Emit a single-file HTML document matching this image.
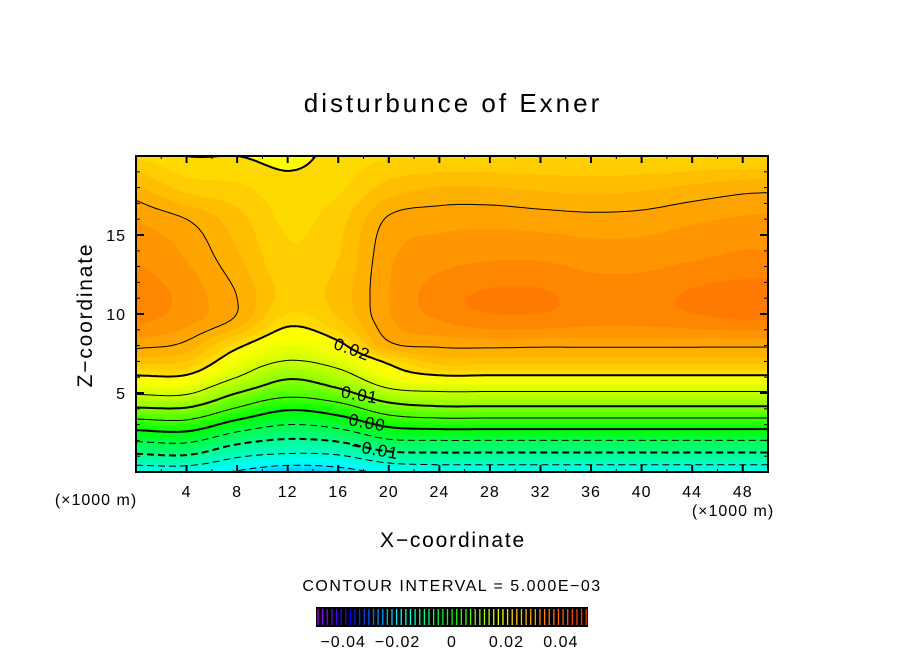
<!DOCTYPE html>
<html><head><meta charset="utf-8">
<style>
html,body{margin:0;padding:0;background:#fff;}
#wrap{position:relative;width:904px;height:654px;overflow:hidden;font-family:"Liberation Sans","DejaVu Sans",sans-serif;}
canvas{position:absolute;left:136px;top:156px;}
svg{position:absolute;left:0;top:0;}
text{font-family:"Liberation Sans","DejaVu Sans",sans-serif;fill:#000;}
</style></head>
<body>
<div id="wrap">
<canvas id="fill" width="632" height="316"></canvas>
<svg id="svg" width="904" height="654">
<text x="453" y="112" font-size="26" letter-spacing="3" text-anchor="middle">disturbunce of Exner</text>
<text x="453" y="547" font-size="21" letter-spacing="1.8" text-anchor="middle">X−coordinate</text>
<text transform="translate(92,315) rotate(-90)" font-size="21" letter-spacing="1.8" text-anchor="middle">Z−coordinate</text>
<text x="96" y="505" font-size="16" letter-spacing="1" text-anchor="middle">(×1000 m)</text>
<text x="733" y="516" font-size="16" letter-spacing="1" text-anchor="middle">(×1000 m)</text>
<text x="452" y="591" font-size="16" letter-spacing="1.5" text-anchor="middle">CONTOUR INTERVAL = 5.000E−03</text>
<g id="contours"></g>
<g id="axes"></g>
<g id="cbar"></g>
</svg>
</div>
<script>
// grid data: columns x (km), rows z (km)
const xs = [0,4,8,12,16,20,24,28,32,36,40,44,48,50];
const zs = [0,1,2,3,4,5,6,7,8,9.5,11,13.5,16,18,20];
const col0  = [-0.018,-0.011,-0.0045,0.0025,0.0095,0.0155,0.0196,0.023,0.0254,0.0278,0.0286,0.0274,0.0262,0.024,0.021];
const col4  = [-0.018,-0.0105,-0.004,0.003,0.0095,0.0155,0.0195,0.0225,0.0245,0.0266,0.027,0.0262,0.025,0.022,0.020];
const col8  = [-0.0205,-0.0145,-0.0085,-0.002,0.0045,0.010,0.015,0.018,0.0205,0.0245,0.025,0.024,0.023,0.0215,0.020];
const col12 = [-0.023,-0.016,-0.0105,-0.005,0.0005,0.0065,0.0105,0.0148,0.0175,0.0205,0.022,0.0215,0.021,0.0205,0.0195];
const col16 = [-0.022,-0.0155,-0.0095,-0.0035,0.0025,0.0085,0.013,0.0165,0.0193,0.0222,0.023,0.0225,0.022,0.021,0.0205];
const col20 = [-0.019,-0.012,-0.0055,0.001,0.0075,0.0135,0.018,0.0205,0.0245,0.026,0.0262,0.026,0.0252,0.023,0.021];
const col24 = [-0.018,-0.0115,-0.005,0.002,0.009,0.0145,0.0195,0.023,0.0252,0.0274,0.0282,0.027,0.0257,0.0238,0.021];
const col28 = [-0.018,-0.0115,-0.005,0.002,0.009,0.0145,0.0195,0.023,0.0253,0.0282,0.029,0.0274,0.0258,0.0238,0.021];
const col32 = [-0.018,-0.0115,-0.005,0.002,0.009,0.0145,0.0195,0.023,0.0252,0.0282,0.029,0.0274,0.0256,0.0235,0.021];
const col36 = [-0.018,-0.0115,-0.005,0.002,0.009,0.0145,0.0195,0.023,0.0252,0.0278,0.0282,0.027,0.0254,0.0233,0.021];
const col40 = [-0.018,-0.0115,-0.005,0.002,0.009,0.0145,0.0195,0.023,0.0252,0.0278,0.0282,0.027,0.0255,0.0235,0.021];
const col44 = [-0.018,-0.0115,-0.005,0.002,0.009,0.0145,0.0195,0.023,0.0252,0.0282,0.029,0.0274,0.026,0.024,0.021];
const col48 = [-0.018,-0.0115,-0.005,0.002,0.009,0.0145,0.0195,0.023,0.0252,0.0286,0.0294,0.0278,0.0264,0.0245,0.021];
const col50 = [-0.018,-0.0115,-0.005,0.002,0.009,0.0145,0.0195,0.023,0.0252,0.0286,0.0294,0.0278,0.0265,0.0246,0.021];
const cols = [col0,col4,col8,col12,col16,col20,col24,col28,col32,col36,col40,col44,col48,col50];
const levels = [-0.02,-0.015,-0.01,-0.005,0,0.005,0.01,0.015,0.02,0.025,0.03];
const heavyLevels = [-0.01,0,0.01,0.02];
const labelLevels = [0.02,0.01,0,-0.01];
const labelTexts = ["0.02","0.01","0.00","−0.01"];
const xTicks = [4,8,12,16,20,24,28,32,36,40,44,48];
const yTicks = [5,10,15];
const cbTicks = [-0.04,-0.02,0,0.02,0.04];
const cbTickText = ["−0.04","−0.02","0","0.02","0.04"];

const PL=136,PT=156,PW=632,PH=316,XMAX=50,ZMAX=20;
const sx = x => PL + x/XMAX*PW;
const sy = z => PT + PH - z/ZMAX*PH;
const NS="http://www.w3.org/2000/svg";

function seg(arr,v){let i=0;while(i<arr.length-2&&v>arr[i+1])i++;return i;}
function slope(X,Y,k){
  if(k===0) return (Y[1]-Y[0])/(X[1]-X[0]);
  const n=X.length-1;
  if(k===n) return (Y[n]-Y[n-1])/(X[n]-X[n-1]);
  return (Y[k+1]-Y[k-1])/(X[k+1]-X[k-1]);
}
function herm(X,Y,v){
  const i=seg(X,v);const h=X[i+1]-X[i];
  const t=Math.max(0,Math.min(1,(v-X[i])/h));
  const m0=slope(X,Y,i)*h,m1=slope(X,Y,i+1)*h;
  const t2=t*t,t3=t2*t;
  return (2*t3-3*t2+1)*Y[i]+(t3-2*t2+t)*m0+(-2*t3+3*t2)*Y[i+1]+(t3-t2)*m1;
}
function field(x,z){
  const row=cols.map(c=>herm(zs,c,z));
  return herm(xs,row,x);
}
function hue(v){
  if(v>=0.02) return Math.max(-10,53-(v-0.02)*2600);
  return Math.max(60,Math.min(280,120-v*3200));
}
function hslRgb(h){
  h=((h%360)+360)%360;
  const f=n=>{const k=(n+h/30)%12;return 255*(0.5-0.5*Math.max(-1,Math.min(k-3,9-k,1)));};
  return [f(0),f(8),f(4)];
}
// fill
const BAND=0.00125;
const ctx=document.getElementById('fill').getContext('2d');
const img=ctx.createImageData(PW,PH);
for(let py=0;py<PH;py++){const z=(PH-py-0.5)/PH*ZMAX;const row=cols.map(c=>herm(zs,c,z));
 for(let px=0;px<PW;px++){
  const v=herm(xs,row,(px+0.5)/PW*XMAX);
  const q=(Math.floor(v/BAND)+0.5)*BAND;
  const c=hslRgb(hue(q));const k=(py*PW+px)*4;
  img.data[k]=c[0];img.data[k+1]=c[1];img.data[k+2]=c[2];img.data[k+3]=255;}}
ctx.putImageData(img,0,0);

// contours via marching squares with chaining
const cg=document.getElementById('contours');
const NX=200,NZ=100;
const G=[];for(let j=0;j<=NZ;j++){const z=j/NZ*ZMAX;const row=cols.map(c=>herm(zs,c,z));G[j]=[];for(let i=0;i<=NX;i++)G[j][i]=herm(xs,row,i/NX*XMAX);}
levels.forEach(L=>{
  const pos={};const adj={};
  const P=(i,j)=>[sx(i/NX*XMAX),sy(j/NZ*ZMAX)];
  function edgePt(A,B){
    let a=A,b=B; if(a[0]>b[0]||a[1]>b[1]){a=B;b=A;}
    const key=a[0]+','+a[1]+','+b[0]+','+b[1];
    if(!pos[key]){const va=G[a[1]][a[0]],vb=G[b[1]][b[0]];const t=(L-va)/(vb-va);
      const pa=P(a[0],a[1]),pb=P(b[0],b[1]);pos[key]=[pa[0]+(pb[0]-pa[0])*t,pa[1]+(pb[1]-pa[1])*t];}
    return key;
  }
  const link=(k1,k2)=>{(adj[k1]=adj[k1]||[]).push(k2);(adj[k2]=adj[k2]||[]).push(k1);};
  for(let j=0;j<NZ;j++)for(let i=0;i<NX;i++){
    const c=[[i,j],[i+1,j],[i+1,j+1],[i,j+1]];
    const ks=[];
    for(let e=0;e<4;e++){const A=c[e],B=c[(e+1)%4];
      const va=G[A[1]][A[0]],vb=G[B[1]][B[0]];
      if((va<L)!==(vb<L))ks.push(edgePt(A,B));}
    for(let k=0;k+1<ks.length;k+=2)link(ks[k],ks[k+1]);
  }
  const used={};let d="";
  const walk=start=>{let pts=[start];used[start]=1;let cur=start;
    while(true){const nx=(adj[cur]||[]).find(n=>!used[n]);if(!nx)break;used[nx]=1;pts.push(nx);cur=nx;}
    return pts;};
  const keys=Object.keys(adj);
  const draw=pts=>{if(pts.length<2)return;d+="M"+pts.map(k=>pos[k][0].toFixed(1)+","+pos[k][1].toFixed(1)).join("L");};
  keys.filter(k=>adj[k].length===1).forEach(k=>{if(!used[k])draw(walk(k));});
  keys.forEach(k=>{if(!used[k])draw(walk(k));});
  const p=document.createElementNS(NS,'path');
  p.setAttribute('d',d);p.setAttribute('fill','none');p.setAttribute('stroke','#000');
  p.setAttribute('stroke-width',heavyLevels.includes(L)?2:1);
  if(L<0)p.setAttribute('stroke-dasharray','7,4');
  
  
  cg.appendChild(p);
});
// contour labels
labelLevels.forEach((L,k)=>{
  const x=17.1+k*0.6;let zz=0;
  for(let z=0;z<ZMAX;z+=0.02){if(field(x,z)>=L){zz=z;break;}}
  const X=sx(x),Y=sy(zz);
  const t=document.createElementNS(NS,'text');
  t.setAttribute('x',X);t.setAttribute('y',Y+6);
  t.setAttribute('font-size','17');t.setAttribute('letter-spacing','1');t.setAttribute('text-anchor','middle');
  t.setAttribute('transform',`rotate(${k==0?20:10},${X},${Y})`);
  t.textContent=labelTexts[k];
  
  
  cg.appendChild(t);
});
// axes
const ax=document.getElementById('axes');
function line(x1,y1,x2,y2,w,name){const l=document.createElementNS(NS,'line');
  l.setAttribute('x1',x1);l.setAttribute('y1',y1);l.setAttribute('x2',x2);l.setAttribute('y2',y2);
  l.setAttribute('stroke','#000');l.setAttribute('stroke-width',w);
  
  
  ax.appendChild(l);}
const fr=document.createElementNS(NS,'rect');
fr.setAttribute('x',PL);fr.setAttribute('y',PT);fr.setAttribute('width',PW);fr.setAttribute('height',PH);
fr.setAttribute('fill','none');fr.setAttribute('stroke','#000');fr.setAttribute('stroke-width','2');


ax.appendChild(fr);
for(let x=2;x<XMAX;x+=2){const maj=x%4===0,len=maj?7:3;
  line(sx(x),PT,sx(x),PT+len,maj?2:1,'x-tick');line(sx(x),PT+PH,sx(x),PT+PH-len,maj?2:1,'x-tick');}
for(let z=1;z<ZMAX;z++){const maj=z%5===0,len=maj?8:4;
  line(PL,sy(z),PL+len,sy(z),maj?2:1,'y-tick');line(PL+PW,sy(z),PL+PW-len,sy(z),maj?2:1,'y-tick');}
xTicks.forEach(x=>{const t=document.createElementNS(NS,'text');t.setAttribute('x',sx(x));t.setAttribute('y',497);
  t.setAttribute('font-size','16');t.setAttribute('letter-spacing','1');t.setAttribute('text-anchor','middle');t.textContent=x;
  
  
  ax.appendChild(t);});
yTicks.forEach(z=>{const t=document.createElementNS(NS,'text');t.setAttribute('x',126);t.setAttribute('y',sy(z)+6);
  t.setAttribute('font-size','16');t.setAttribute('letter-spacing','1');t.setAttribute('text-anchor','end');t.textContent=z;
  
  
  ax.appendChild(t);});
// colorbar
const cb=document.getElementById('cbar');
const CL=316,CR=588,CT=607,CB=627;
const cx=v=>CL+(v+0.05)/0.1*(CR-CL);
const bg=document.createElementNS(NS,'rect');
bg.setAttribute('x',CL);bg.setAttribute('y',CT);bg.setAttribute('width',CR-CL);bg.setAttribute('height',CB-CT);
bg.setAttribute('fill','#000');


cb.appendChild(bg);
for(let v=-0.0495;v<0.05;v+=0.0017){const c=hslRgb(v>=0.02?Math.max(-10,53-(v-0.02)*1500):hue(v));const l=document.createElementNS(NS,'rect');
  l.setAttribute('x',cx(v));l.setAttribute('y',CT+2);l.setAttribute('width',1.3);l.setAttribute('height',CB-CT-4);
  l.setAttribute('fill',`rgb(${c[0]|0},${c[1]|0},${c[2]|0})`);
  
  
  cb.appendChild(l);}
cbTicks.forEach((v,k)=>{const t=document.createElementNS(NS,'text');t.setAttribute('x',cx(v));t.setAttribute('y',647);
  t.setAttribute('font-size','16');t.setAttribute('letter-spacing','1');t.setAttribute('text-anchor','middle');t.textContent=cbTickText[k];
  
  
  cb.appendChild(t);});
</script>
</body></html>
